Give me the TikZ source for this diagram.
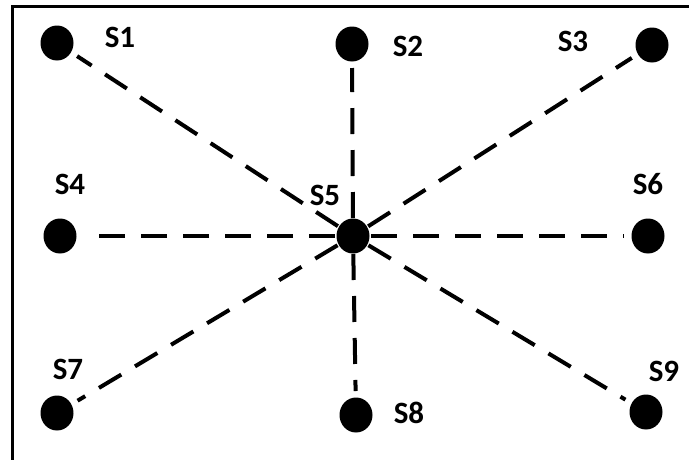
\documentclass[tikz,border=0pt]{standalone}
\usepackage{fontspec}
\setmainfont{Carlito}
\usetikzlibrary{shapes.geometric}
\begin{document}
\begin{tikzpicture}[x=1pt,y=-1pt,
  dot/.style={fill=black,ellipse,minimum width=33pt,minimum height=35pt,inner sep=0pt},
  lab/.style={font=\bfseries\fontsize{31}{31}\selectfont,inner sep=0pt},
  dline/.style={line width=4pt,dash pattern=on 26pt off 16pt,shorten <=18pt,shorten >=24pt}]
\useasboundingbox (0,0) rectangle (689,459);
\draw[line width=3pt] (12,480) -- (12,6) -- (700,6);
\node[dot] (s1) at (57,43) {};
\node[dot] (s2) at (352,44) {};
\node[dot] (s3) at (652,45) {};
\node[dot] (s4) at (60,236) {};
\node[dot] (s5) at (353,236) {};
\node[dot] (s6) at (648,236) {};
\node[dot] (s7) at (57,413) {};
\node[dot] (s8) at (356,415) {};
\node[dot] (s9) at (646,412) {};
\node[lab] (l1) at (120,37) {S1};
\node[lab] (l2) at (408,46) {S2};
\node[lab] (l3) at (573,41) {S3};
\node[lab] (l4) at (70,184) {S4};
\node[lab] (l5) at (325,195) {S5};
\node[lab] (l6) at (648,184) {S6};
\node[lab] (l7) at (68,369) {S7};
\node[lab] (l8) at (409,413) {S8};
\node[lab] (l9) at (664,371) {S9};
\foreach \t in {s1,s2,s3,s4,s6,s7,s8,s9}
  \draw[dline] (s5.center) -- (\t.center);
\end{tikzpicture}
\end{document}
